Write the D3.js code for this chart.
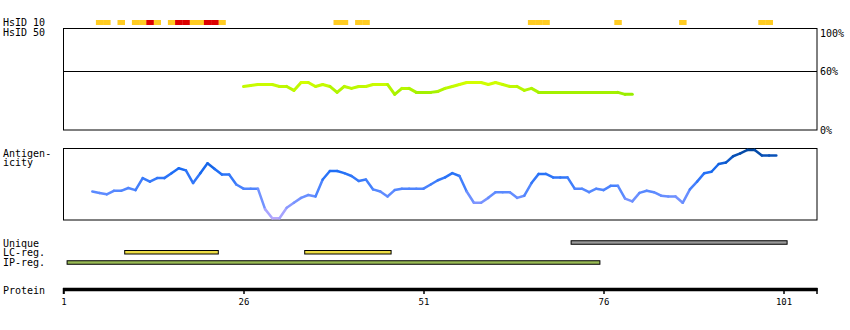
<!DOCTYPE html>
<html><head><meta charset="utf-8">
<script src="https://cdn.jsdelivr.net/npm/d3@7"></script>
<style>body{margin:0;background:#fff}svg{display:block}text{font-family:"DejaVu Sans Mono",monospace;font-size:10px;fill:#000}</style>
</head><body><svg id="c" width="850" height="330"></svg>
<script>
// ---------- data ----------
const proteinTicks = [1, 26, 51, 76, 101];
const hsidYellow = [6, 7, 9, 11, 12, 14, 16, 19, 20, 23, 39, 40, 42, 43, 66, 67, 68, 78, 87, 98, 99];
const hsidRed = [13, 17, 18, 21, 22];
const simStart = 26;
const simValues = [44, 45, 46, 46, 46, 44, 44, 40, 48, 48, 44, 46, 44, 38, 44, 42, 44, 44, 46, 46, 46, 36, 42, 42, 38, 38, 38, 39, 42, 44, 46, 48, 48, 48, 46, 48, 46, 44, 44, 40, 42, 38, 38, 38, 38, 38, 38, 38, 38, 38, 38, 38, 38, 36, 36];
const pctTicks = [100, 60, 0];
const antStart = 5;
const antValues = [39, 37, 35, 40, 40, 44, 41, 58, 53, 58, 58, 65, 72, 69, 51, 65, 79, 71, 63, 63, 49, 43, 43, 43, 14, 1, 1, 16, 23, 30, 34, 32, 56, 68, 68, 65, 61, 54, 56, 42, 39, 32, 41, 43, 43, 43, 43, 49, 55, 59, 65, 61, 39, 23, 23, 30, 38, 38, 38, 30, 33, 51, 64, 64, 59, 59, 59, 43, 43, 38, 43, 41, 47, 47, 29, 25, 37, 40, 38, 33, 32, 32, 23, 42, 53, 65, 67, 78, 80, 89, 93, 98, 98, 90, 90, 90];
const regionNames = ["Unique", "LC-reg.", "IP-reg."];
const uniqueRegions = [[72, 101]];
const lcRegions = [[10, 22], [35, 46]];
const ipRegions = [[2, 75]];

// ---------- drawing ----------
const svg = d3.select("#c");
svg.append("rect").attr("width", 850).attr("height", 330).attr("fill", "#fff");
const x = d3.scaleLinear().domain([1, 101]).range([63.5, 783.5]);
const half = (x(2) - x(1)) / 2;
const left = 63.5, right = 817;

// labels
const lab = (t, yy) => svg.append("text").attr("x", 3).attr("y", yy).attr("dominant-baseline", "central").text(t);
lab("HsID 10", 22.5); lab("HsID 50", 32.5);
lab("Antigen-", 153); lab("icity", 162.5);
regionNames.forEach((n, i) => lab(n, 243 + i * 9.8));
lab("Protein", 290);

// HsID bars
svg.selectAll("rect.hy").data(hsidYellow).join("rect").attr("class", "hy")
  .attr("x", d => x(d) - half).attr("width", half * 2 + 0.3).attr("y", 20).attr("height", 5).attr("fill", "#ffcc22");
svg.selectAll("rect.hr").data(hsidRed).join("rect").attr("class", "hr")
  .attr("x", d => x(d) - half).attr("width", half * 2 + 0.3).attr("y", 20).attr("height", 5).attr("fill", "#dd0000");

// similarity panel
const yP = d3.scaleLinear().domain([0, 100]).range([130, 31]);
svg.append("rect").attr("x", left).attr("y", 28.5).attr("width", right - left).attr("height", 101.5)
  .attr("fill", "none").attr("stroke", "#000").attr("stroke-width", 1);
svg.append("line").attr("x1", left).attr("x2", right).attr("y1", Math.round(yP(60)) + 0.5).attr("y2", Math.round(yP(60)) + 0.5)
  .attr("stroke", "#000").attr("stroke-width", 1);
const pctY = {100: 33, 60: 71.5, 0: 130};
svg.selectAll("text.pct").data(pctTicks).join("text").attr("class", "pct")
  .attr("x", right + 3).attr("y", d => pctY[d]).attr("dominant-baseline", "central").text(d => d + "%");
const simCol = d3.scaleLinear().domain([36, 48]).range(["#99ee00", "#d4ff00"]);
const simPts = simValues.map((v, i) => [simStart + i, v]);
for (let i = 0; i < simPts.length - 1; i++) {
  const a = simPts[i], b = simPts[i + 1];
  svg.append("line").attr("x1", x(a[0])).attr("y1", yP(a[1])).attr("x2", x(b[0])).attr("y2", yP(b[1]))
    .attr("stroke", simCol((a[1] + b[1]) / 2)).attr("stroke-width", 3).attr("stroke-linecap", "round");
}

// antigenicity panel
const yA = d3.scaleLinear().domain([0, 100]).range([219, 148.5]);
svg.append("rect").attr("x", left).attr("y", 148.5).attr("width", right - left).attr("height", 71.5)
  .attr("fill", "none").attr("stroke", "#000").attr("stroke-width", 1);
const antCol = d3.scaleLinear().domain([0, 40, 70, 100]).range(["#bbaaff", "#5588ff", "#1a6cf5", "#004499"]);
const antPts = antValues.map((v, i) => [antStart + i, v]);
for (let i = 0; i < antPts.length - 1; i++) {
  const a = antPts[i], b = antPts[i + 1];
  svg.append("line").attr("x1", x(a[0])).attr("y1", yA(a[1])).attr("x2", x(b[0])).attr("y2", yA(b[1]))
    .attr("stroke", antCol((a[1] + b[1]) / 2)).attr("stroke-width", 2.5).attr("stroke-linecap", "round");
}

// region bars
const bars = (arr, yy, fill) => svg.selectAll(null).data(arr).join("rect")
  .attr("x", d => x(d[0]) - half).attr("width", d => x(d[1]) - x(d[0]) + 2 * half)
  .attr("y", yy).attr("height", 3.5).attr("fill", fill).attr("stroke", "#000").attr("stroke-width", 1);
bars(uniqueRegions, 240.75, "#999999");
bars(lcRegions, 250.5, "#eedd44");
bars(ipRegions, 260.75, "#99bb55");

// protein axis
const ax = svg.append("g").attr("transform", "translate(0,290)")
  .call(d3.axisBottom(x).tickValues(proteinTicks).tickSize(4).tickSizeOuter(0).tickPadding(5).tickFormat(d3.format("d")));
ax.select(".domain").remove();
ax.selectAll(".tick line").attr("stroke", "#000").attr("stroke-width", 1.5);
ax.selectAll(".tick text").style("font-family", '"DejaVu Sans Mono",monospace').style("font-size", "9px");
svg.append("line").attr("x1", left - 0.5).attr("x2", right + 0.5).attr("y1", 289.5).attr("y2", 289.5).attr("stroke", "#000").attr("stroke-width", 3.5);
svg.append("line").attr("x1", right).attr("x2", right).attr("y1", 288).attr("y2", 294).attr("stroke", "#000").attr("stroke-width", 1.5);
svg.append("line").attr("x1", left).attr("x2", left).attr("y1", 288).attr("y2", 294).attr("stroke", "#000").attr("stroke-width", 1.5);
</script></body></html>
